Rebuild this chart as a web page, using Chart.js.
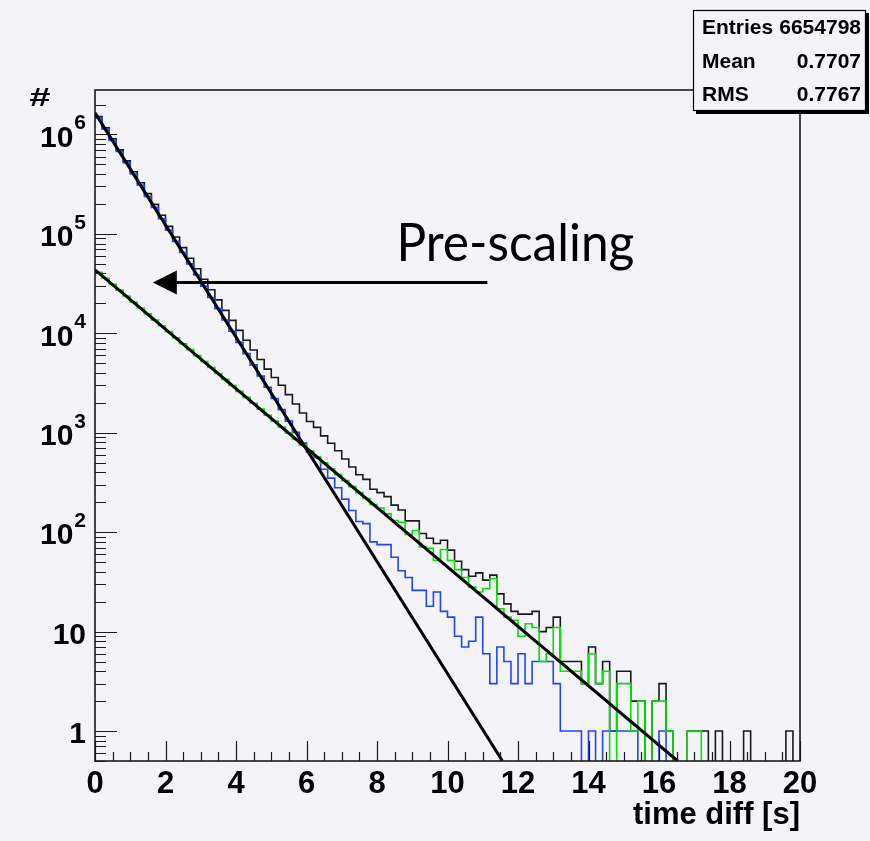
<!DOCTYPE html>
<html>
<head>
<meta charset="utf-8">
<script src="https://cdn.jsdelivr.net/npm/chart.js@4.4.0/dist/chart.umd.min.js"></script>
<style>
html,body{margin:0;padding:0;background:#f4f3f7;}
#wrap{width:870px;height:841px;position:relative;}
</style>
</head>
<body>
<div id="wrap"><canvas id="c" width="870" height="841"></canvas></div>
<script>
// ---- data ----
const binEdges = [0,0.2,0.4,0.6,0.8,1,1.2,1.4,1.6,1.8,2,2.2,2.4,2.6,2.8,3,3.2,3.4,3.6,3.8,4,4.2,4.4,4.6,4.8,5,5.2,5.4,5.6,5.8,6,6.2,6.4,6.6,6.8,7,7.2,7.4,7.6,7.8,8,8.2,8.4,8.6,8.8,9,9.2,9.4,9.6,9.8,10,10.2,10.4,10.6,10.8,11,11.2,11.4,11.6,11.8,12,12.2,12.4,12.6,12.8,13,13.2,13.4,13.6,13.8,14,14.2,14.4,14.6,14.8,15,15.2,15.4,15.6,15.8,16,16.2,16.4,16.6,16.8,17,17.2,17.4,17.6,17.8,18,18.2,18.4,18.6,18.8,19,19.2,19.4,19.6,19.8,20];

const blackCounts = [1510000,1168000,904000,700000,543000,421000,327000,254000,198000,154000,
 119000,93100,72800,56900,44600,35000,27400,21700,17000,13500,
 10700,8520,6800,5450,4370,3600,3000,2420,1950,1580,
 1300,1133,930,785,660,545,452,378,340,270,
 250,228,187,167,130,130,97,87,77,83,
 66,51,42,36,39,33,37,24,19,16,
 15,15,16,10,11,14,5,5,5,3,
 7,3,5,1,4,4,2,2,0,2,
 3,1,0,0,1,1,1,0,1,0,
 0,0,1,0,0,0,0,0,1,0];

const blueCounts = [1469000,1132000,873000,673000,519000,400000,309000,238000,184000,142000,
 109000,84100,64900,50000,38600,29800,22900,17700,13600,10500,
 8110,6250,4820,3720,2870,2210,1710,1310,1010,790,
 640,560,430,350,280,215,165,128,122,80,
 75,75,56,41,35,26,26,18,25,16,
 14,9,7,8,14,6,3,7,5,3,
 6,3,5,5,5,3,1,1,1,0,
 1,0,1,1,1,1,1,0,0,0,
 1,0,0,0,0,0,0,0,0,0,
 0,0,0,0,0,0,0,0,0,0];

const greenCounts = [41100,35800,31200,27200,23700,20600,18000,15700,13600,11900,
 10400,9020,7860,6850,5970,5200,4530,3950,3440,2990,
 2610,2270,1980,1730,1500,1310,1140,993,866,755,
 658,573,499,435,379,330,287,250,218,190,
 175,153,131,126,95,104,71,69,52,67,
 52,42,35,28,25,27,34,17,14,13,
 9,12,11,5,6,11,4,4,4,3,
 6,3,4,0,3,3,1,2,0,2,
 2,1,0,0,1,1,0,0,0,0,
 0,0,0,0,0,0,0,0,0,0];

const steepFitX = [0, 11.56];
const steepFitY = [1.65e6, 0.5];
const shallowFitX = [0, 16.53];
const shallowFitY = [4.35e4, 0.5];

const xTickValues = [0,2,4,6,8,10,12,14,16,18,20];
const yTickValues = [1,10,100,1000,10000,100000,1000000];
const yTickBase = ['1','10','10','10','10','10','10'];
const yTickExp  = ['','','2','3','4','5','6'];

const xAxisTitle = 'time diff [s]';
const yAxisTitle = '#';
const statsLabels = ['Entries','Mean','RMS'];
const statsValues = ['6654798','0.7707','0.7767'];

const annotationText = 'Pre-scaling';
const annotationTextX = 8.55, annotationTextY = 5.4e4;
const arrowTipX = 1.64, arrowTailX = 11.13, arrowY = 3.3e4;

// ---- rendering ----
const BG = '#f4f3f7';
const FLOOR = 0.05; // empty bins are drawn to below the axis (clipped)
const FONT = '"Liberation Sans", Arial, Helvetica, sans-serif';

function histPoints(counts){
  const pts = counts.map((c,i)=>({x:binEdges[i], y: c>0 ? c : FLOOR}));
  pts.push({x:binEdges[counts.length], y: FLOOR});
  return pts;
}
function linePoints(xs, ys){ return xs.map((v,i)=>({x:v, y:ys[i]})); }

const bgPlugin = {
  id:'bg',
  beforeDraw(chart){
    const c = chart.ctx; c.save(); c.fillStyle = BG; c.fillRect(0,0,chart.width,chart.height); c.restore();
  }
};

const rootPlugin = {
  id:'rootStyle',
  afterDatasetsDraw(chart){
    const ctx = chart.ctx, a = chart.chartArea, xs = chart.scales.x, ys = chart.scales.y;
    ctx.save();
    // frame
    ctx.strokeStyle = '#1a1a1a'; ctx.lineWidth = 1.6;
    ctx.strokeRect(a.left, a.top, a.right - a.left, a.bottom - a.top);
    // x ticks (inside)
    ctx.lineWidth = 1.2; ctx.beginPath();
    for (let k = 0; k <= 40; k++) {
      const v = k * 0.5;
      const px = Math.round(xs.getPixelForValue(v)) + 0.5;
      const len = (k % 4 === 0) ? 20 : 9;
      ctx.moveTo(px, a.bottom); ctx.lineTo(px, a.bottom - len);
    }
    // y ticks (inside)
    for (let d = -1; d <= 6; d++) {
      for (let m = 1; m <= 9; m++) {
        const v = m * Math.pow(10, d);
        if (v < ys.min || v > ys.max) continue;
        const py = Math.round(ys.getPixelForValue(v)) + 0.5;
        const len = (m === 1) ? 22 : 11;
        ctx.moveTo(a.left, py); ctx.lineTo(a.left + len, py);
      }
    }
    ctx.stroke();

    // y tick labels with superscripts
    ctx.fillStyle = '#000';
    ctx.textBaseline = 'middle';
    yTickValues.forEach((v,i)=>{
      const py = ys.getPixelForValue(v);
      const right = 86;
      let ew = 0;
      if (yTickExp[i]) {
        ctx.font = 'bold 21px ' + FONT;
        ctx.textAlign = 'right';
        ew = ctx.measureText(yTickExp[i]).width + 1;
        ctx.fillText(yTickExp[i], right, py - 11);
      }
      ctx.font = 'bold 30px ' + FONT;
      ctx.textAlign = 'right';
      ctx.fillText(yTickBase[i], right - ew, py + 4);
    });

    // y axis title '#'
    ctx.save();
    ctx.translate(40, 99);
    ctx.scale(1.45, 1);
    ctx.font = 'bold 26px ' + FONT;
    ctx.textAlign = 'center'; ctx.textBaseline = 'middle';
    ctx.fillText(yAxisTitle, 0, 0);
    ctx.restore();

    // arrow
    const tipX = xs.getPixelForValue(arrowTipX);
    const tailX = xs.getPixelForValue(arrowTailX);
    const ay = Math.round(ys.getPixelForValue(arrowY)) + 0.5;
    ctx.strokeStyle = '#000'; ctx.lineWidth = 3;
    ctx.beginPath(); ctx.moveTo(tipX + 20, ay); ctx.lineTo(tailX, ay); ctx.stroke();
    ctx.beginPath(); ctx.moveTo(tipX, ay); ctx.lineTo(tipX + 24, ay - 12); ctx.lineTo(tipX + 24, ay + 12); ctx.closePath();
    ctx.fillStyle = '#000'; ctx.fill();

    // annotation text
    ctx.font = '52px Lato, "Open Sans", sans-serif';
    ctx.textAlign = 'left'; ctx.textBaseline = 'alphabetic';
    ctx.fillText(annotationText, xs.getPixelForValue(annotationTextX), ys.getPixelForValue(annotationTextY), 238);

    // stats box
    const bx = 693, by = 10, bw = 173, bh = 101;
    ctx.fillStyle = '#000';
    ctx.fillRect(bx + 3, by + bh, bw, 3);
    ctx.fillRect(bx + bw, by + 3, 3, bh);
    ctx.fillStyle = BG; ctx.fillRect(bx, by, bw, bh);
    ctx.strokeStyle = '#000'; ctx.lineWidth = 1.2;
    ctx.strokeRect(bx + 0.5, by + 0.5, bw - 1, bh - 1);
    ctx.fillStyle = '#000';
    ctx.font = 'bold 21px ' + FONT;
    ctx.textBaseline = 'middle';
    const rows = [28, 62, 95];
    statsLabels.forEach((lab,i)=>{
      ctx.textAlign = 'left'; ctx.fillText(lab, 702, rows[i], 80);
      ctx.textAlign = 'right'; ctx.fillText(statsValues[i], 861, rows[i], 82);
    });
    ctx.restore();
  }
};

const ctx = document.getElementById('c').getContext('2d');
new Chart(ctx, {
  type: 'line',
  data: {
    datasets: [
      { label:'fit steep', data: linePoints(steepFitX, steepFitY), borderColor:'#000', borderWidth:3, pointRadius:0, fill:false, tension:0 },
      { label:'fit shallow', data: linePoints(shallowFitX, shallowFitY), borderColor:'#000', borderWidth:3, pointRadius:0, fill:false, tension:0 },
      { label:'green', data: histPoints(greenCounts), borderColor:'#00e600', borderWidth:1.6, pointRadius:0, fill:false, stepped:'before' },
      { label:'blue', data: histPoints(blueCounts), borderColor:'#2244ff', borderWidth:1.6, pointRadius:0, fill:false, stepped:'before' },
      { label:'black', data: histPoints(blackCounts), borderColor:'#1a1a1a', borderWidth:1.6, pointRadius:0, fill:false, stepped:'before' }
    ]
  },
  options: {
    responsive: false,
    animation: false,
    events: [],
    layout: { padding: { left: 0, right: 70, top: 90, bottom: 0 } },
    plugins: { legend: { display: false }, tooltip: { enabled: false } },
    scales: {
      x: {
        type: 'linear', min: 0, max: 20,
        grid: { display: false, drawTicks: false },
        border: { display: false },
        afterBuildTicks(s){ s.ticks = xTickValues.map(v=>({value:v})); },
        ticks: { autoSkip: false, maxRotation: 0, color: '#000', padding: 5,
                 font: { family: FONT, weight: 'bold', size: 31 } },
        title: { display: true, text: xAxisTitle, align: 'end', color: '#000',
                 font: { family: FONT, weight: 'bold', size: 31 }, padding: { top: 0, bottom: 7 } },
        afterFit(s){ s.height = 80; }
      },
      y: {
        type: 'logarithmic', min: 0.5, max: 2.8e6,
        grid: { display: false, drawTicks: false },
        border: { display: false },
        ticks: { display: false },
        afterFit(s){ s.width = 95; }
      }
    }
  },
  plugins: [bgPlugin, rootPlugin]
});
</script>
</body>
</html>
